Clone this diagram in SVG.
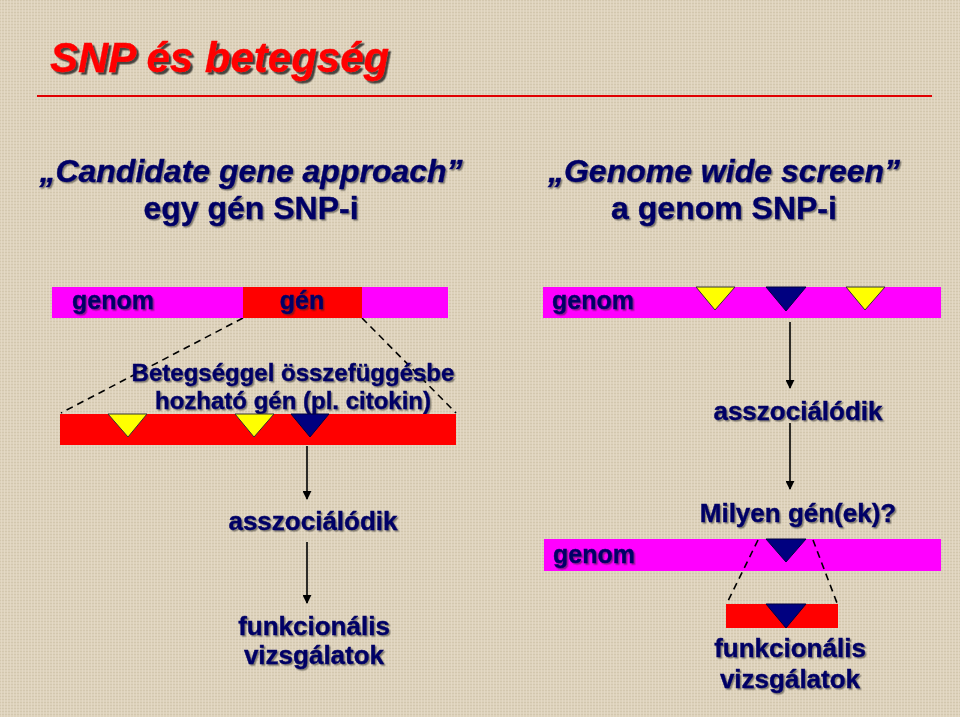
<svg xmlns="http://www.w3.org/2000/svg" width="960" height="717" viewBox="0 0 960 717">
<defs>
<filter id="sh" x="-5%" y="-20%" width="110%" height="140%">
<feDropShadow dx="1.5" dy="1.5" stdDeviation="0.3" flood-color="#1a1a1a" flood-opacity="0.5"/>
</filter>
<filter id="tsh" x="-5%" y="-20%" width="110%" height="140%">
<feDropShadow dx="2.5" dy="2.5" stdDeviation="0.3" flood-color="#222" flood-opacity="0.8"/>
</filter>
<pattern id="linen" width="6" height="6" patternUnits="userSpaceOnUse">
<rect width="6" height="6" fill="#ddd2bc"/>
<path d="M0 0.5H6M0 3.5H6" stroke="#d0c4ab" stroke-width="0.8"/>
<path d="M1.5 0V6M4.5 0V6" stroke="#e7ddc9" stroke-width="0.7"/>
</pattern>
<marker id="ah" viewBox="0 0 10 10" refX="9" refY="5" markerWidth="9" markerHeight="9" markerUnits="userSpaceOnUse" orient="auto">
<path d="M0 0L10 5L0 10Z" fill="#000"/>
</marker>
</defs>
<style>
text{font-family:"Liberation Sans",Arial,sans-serif;font-weight:bold;fill:#000066;stroke:#000066;stroke-width:0.4}
.hd{font-size:32px;text-anchor:middle}
.it{font-style:italic}
.md{font-size:25px}
.lg{font-size:26px}
.c{text-anchor:middle}
.t{filter:url(#sh)}
.conn line{stroke:#000;stroke-width:1.6}
.conn .dash{stroke-dasharray:7 5;stroke-width:1.6}
.mag{fill:#ff00ff}
.red{fill:#ff0000}
.yel{fill:#ffff00;stroke:#333;stroke-width:1}
.nav{fill:#000080;stroke:#000040;stroke-width:1}
</style>
<rect width="960" height="717" fill="url(#linen)"/>

<g id="title">
<text x="50" y="72" style="font-size:42px;font-style:italic;fill:#ff0000;stroke:#ff0000;stroke-width:0.3;filter:url(#tsh)">SNP és betegség</text>
<line x1="37" y1="96" x2="932" y2="96" stroke="#e00000" stroke-width="2"/>
</g>

<g id="left-header" class="t">
<text x="251" y="182" class="hd it">„Candidate gene approach”</text>
<text x="251" y="219" class="hd">egy gén SNP-i</text>
</g>

<g id="right-header" class="t">
<text x="724" y="182" class="hd it">„Genome wide screen”</text>
<text x="724" y="219" class="hd">a genom SNP-i</text>
</g>

<g id="conn" class="conn">
<line class="dash" x1="243" y1="318" x2="61" y2="413"/>
<line class="dash" x1="362" y1="318" x2="456" y2="413"/>
<line x1="307" y1="446" x2="307" y2="499" marker-end="url(#ah)"/>
<line x1="307" y1="542" x2="307" y2="603" marker-end="url(#ah)"/>
<line x1="790" y1="322" x2="790" y2="388" marker-end="url(#ah)"/>
<line x1="790" y1="423" x2="790" y2="489" marker-end="url(#ah)"/>
</g>

<g id="left-genom">
<rect x="52" y="287" width="396" height="31" class="mag"/>
<rect x="243" y="287" width="119" height="31" class="red"/>
<text x="72" y="309" class="md t">genom</text>
<text x="302" y="309" class="md c t">gén</text>
</g>

<g id="left-gene">
<text x="293" y="381" class="c t" style="font-size:24px">Betegséggel összefüggésbe</text>
<text x="293" y="409" class="c t" style="font-size:24px">hozható gén (pl. citokin)</text>
<rect x="60" y="414" width="396" height="31" class="red"/>
<polygon points="108,414 147,414 128,437" class="yel"/>
<polygon points="235,414 274,414 254,437" class="yel"/>
<polygon points="291,414 329,414 310,437" class="nav"/>
</g>

<g id="left-assoc">
<text x="313" y="530" class="lg c t">asszociálódik</text>
</g>

<g id="left-func" class="t">
<text x="314" y="635" class="lg c">funkcionális</text>
<text x="314" y="664" class="lg c">vizsgálatok</text>
</g>

<g id="right-genom">
<rect x="543" y="287" width="398" height="31" class="mag"/>
<text x="552" y="309" class="md t">genom</text>
<polygon points="696,287 735,287 715,310" class="yel"/>
<polygon points="766,287 806,287 786,311" class="nav"/>
<polygon points="846,287 885,287 865,310" class="yel"/>
</g>

<g id="right-assoc">
<text x="798" y="420" class="lg c t">asszociálódik</text>
</g>

<g id="right-question">
<text x="798" y="522" class="lg c t">Milyen gén(ek)?</text>
</g>

<g id="right-genom2">
<rect x="544" y="539" width="397" height="32" class="mag"/>
<text x="553" y="563" class="md t">genom</text>
<polygon points="766,539 806,539 786,562" class="nav"/>
</g>

<g id="conn2" class="conn">
<line class="dash" x1="758" y1="540" x2="727" y2="603"/>
<line class="dash" x1="813" y1="540" x2="837" y2="603"/>
</g>

<g id="right-gene">
<rect x="726" y="604" width="112" height="24" class="red"/>
<polygon points="766,604 806,604 786,628" class="nav"/>
</g>

<g id="right-func" class="t">
<text x="790" y="657" class="lg c">funkcionális</text>
<text x="790" y="688" class="lg c">vizsgálatok</text>
</g>
</svg>
